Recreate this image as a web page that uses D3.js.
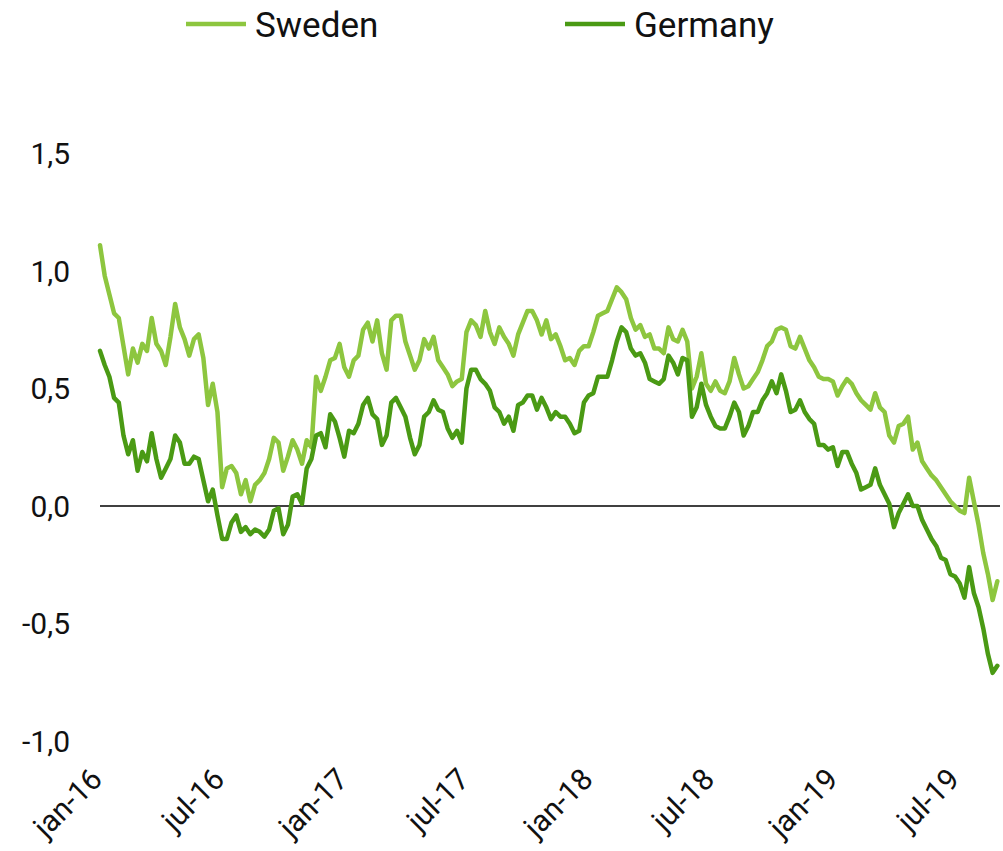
<!DOCTYPE html>
<html lang="en">
  <head>
    <meta charset="UTF-8" />
    <title>Sweden vs Germany</title>
    <script src="https://cdnjs.cloudflare.com/ajax/libs/d3/7.8.5/d3.min.js"></script>
    <style>
      body {
        margin: 0;
        background: #fff;
      }
      svg text {
        font-family: Roboto, 'Liberation Sans', sans-serif;
        fill: #111;
      }
      .line {
        fill: none;
        stroke-width: 4.5px;
        stroke-linejoin: round;
        stroke-linecap: round;
      }
    </style>
  </head>
  <body>
    <svg width="1003" height="851"></svg>
    <script>
      // weekly observations, first week starting 1 Jan 2016
      const startDate = new Date(2016, 0, 1);

      const sweden = [
        1.11, 0.98, 0.90, 0.82, 0.80, 0.68, 0.56, 0.67, 0.61, 0.69,
        0.66, 0.80, 0.69, 0.66, 0.60, 0.72, 0.86, 0.76, 0.71, 0.64,
        0.71, 0.73, 0.63, 0.43, 0.52, 0.40, 0.08, 0.16, 0.17, 0.14,
        0.05, 0.11, 0.02, 0.09, 0.11, 0.14, 0.20, 0.29, 0.27, 0.15, 0.21,
        0.28, 0.24, 0.18, 0.28, 0.25, 0.55, 0.49, 0.55, 0.62, 0.63,
        0.69, 0.59, 0.55, 0.62, 0.64, 0.75, 0.78, 0.70, 0.79, 0.65,
        0.58, 0.79, 0.81, 0.81, 0.70, 0.64, 0.58, 0.62, 0.71, 0.67,
        0.72, 0.62, 0.59, 0.56, 0.51, 0.53, 0.54, 0.74, 0.79, 0.77,
        0.72, 0.83, 0.74, 0.69, 0.76, 0.72, 0.69, 0.64, 0.73, 0.78,
        0.83, 0.83, 0.79, 0.73, 0.79, 0.71, 0.73, 0.68, 0.62, 0.63,
        0.60, 0.66, 0.68, 0.68, 0.74, 0.81, 0.82, 0.83, 0.88, 0.93, 0.91,
        0.88, 0.80, 0.75, 0.77, 0.72, 0.73, 0.67, 0.67, 0.65, 0.76,
        0.71, 0.70, 0.75, 0.70, 0.50, 0.55, 0.65, 0.52, 0.49, 0.53,
        0.49, 0.48, 0.53, 0.63, 0.56, 0.50, 0.51, 0.54, 0.57, 0.62,
        0.68, 0.70, 0.75, 0.76, 0.75, 0.68, 0.67, 0.72, 0.67, 0.62,
        0.59, 0.55, 0.54, 0.54, 0.53, 0.47, 0.51, 0.54, 0.52, 0.48,
        0.45, 0.43, 0.41, 0.48, 0.42, 0.40, 0.30, 0.27, 0.34, 0.35,
        0.38, 0.24, 0.27, 0.19, 0.16, 0.13, 0.11, 0.08, 0.05, 0.02, 0.00,
        -0.02, -0.03, 0.12, 0.02, -0.08, -0.20, -0.29, -0.40, -0.32
      ];

      const germany = [
        0.66, 0.60, 0.55, 0.46, 0.44, 0.30, 0.22, 0.28, 0.15, 0.23,
        0.19, 0.31, 0.20, 0.12, 0.16, 0.20, 0.30, 0.27, 0.18, 0.18,
        0.21, 0.20, 0.11, 0.02, 0.07, -0.04, -0.14, -0.14, -0.07, -0.04,
        -0.11, -0.09, -0.12, -0.10, -0.11, -0.13, -0.10, -0.02, -0.01, -0.12, -0.08,
        0.04, 0.05, 0.01, 0.16, 0.20, 0.30, 0.31, 0.25, 0.39, 0.36,
        0.29, 0.21, 0.32, 0.31, 0.35, 0.43, 0.46, 0.39, 0.37, 0.26,
        0.30, 0.44, 0.46, 0.42, 0.38, 0.29, 0.22, 0.26, 0.38, 0.40,
        0.45, 0.41, 0.40, 0.33, 0.29, 0.32, 0.27, 0.50, 0.58, 0.58,
        0.54, 0.52, 0.49, 0.42, 0.40, 0.35, 0.38, 0.32, 0.43, 0.44,
        0.47, 0.47, 0.41, 0.46, 0.42, 0.37, 0.40, 0.38, 0.38, 0.35,
        0.31, 0.32, 0.44, 0.47, 0.48, 0.55, 0.55, 0.55, 0.62, 0.70, 0.76,
        0.74, 0.67, 0.64, 0.65, 0.61, 0.54, 0.53, 0.52, 0.54, 0.64,
        0.61, 0.56, 0.63, 0.62, 0.38, 0.42, 0.52, 0.43, 0.38, 0.34,
        0.33, 0.33, 0.38, 0.44, 0.40, 0.30, 0.34, 0.40, 0.40, 0.45,
        0.48, 0.53, 0.48, 0.56, 0.49, 0.40, 0.41, 0.45, 0.40, 0.37,
        0.35, 0.26, 0.26, 0.24, 0.25, 0.17, 0.23, 0.23, 0.18, 0.14,
        0.07, 0.08, 0.09, 0.16, 0.09, 0.05, 0.01, -0.09, -0.03, 0.01,
        0.05, 0.00, 0.00, -0.06, -0.10, -0.14, -0.17, -0.22, -0.23, -0.29, -0.30,
        -0.33, -0.39, -0.26, -0.37, -0.43, -0.52, -0.63, -0.71, -0.68
      ];

      const yTicks = [-1.0, -0.5, 0, 0.5, 1.0, 1.5];
      const seriesNames = ['Sweden', 'Germany'];
      const seriesColors = ['#8dc63f', '#4a9a14'];

      const weeks = sweden.map((_, i) => d3.timeDay.offset(startDate, 7 * i));

      const svg = d3.select('svg');

      const x = d3
        .scaleTime()
        .domain([startDate, new Date(2019, 7, 31)])
        .range([100, 998]);

      const y = d3.scaleLinear().domain([-1, 1.5]).range([741, 153.5]);

      // plain hyphen and decimal comma, like "-0,5"
      const fmtNum = d => d.toFixed(1).replace('.', ',');
      const fmtDate = d3.timeFormat('%b-%y');

      // y labels (no axis line, no ticks)
      svg
        .append('g')
        .selectAll('text')
        .data(yTicks)
        .join('text')
        .attr('x', 70)
        .attr('y', d => y(d))
        .attr('dy', '0.35em')
        .attr('text-anchor', 'end')
        .style('font-size', '30px')
        .text(fmtNum);

      // zero line
      svg
        .append('line')
        .attr('x1', x.range()[0])
        .attr('x2', 1000)
        .attr('y1', y(0))
        .attr('y2', y(0))
        .attr('stroke', '#000')
        .attr('stroke-width', 1.5);

      // x labels, rotated
      const xTicks = x.ticks(d3.timeMonth.every(6));
      svg
        .append('g')
        .selectAll('text')
        .data(xTicks)
        .join('text')
        .attr('text-anchor', 'end')
        .attr('transform', d => `translate(${x(d) + 4},781) rotate(-45)`)
        .style('font-size', '30px')
        .text(d => fmtDate(d).toLowerCase());

      // lines
      const line = d3
        .line()
        .x((d, i) => x(weeks[i]))
        .y(d => y(d));

      [sweden, germany].forEach((s, k) => {
        svg
          .append('path')
          .datum(s)
          .attr('class', 'line')
          .attr('stroke', seriesColors[k])
          .attr('d', line);
      });

      // legend
      const legendX = [186, 565];
      const legend = svg
        .append('g')
        .selectAll('g')
        .data(seriesNames)
        .join('g')
        .attr('transform', (d, i) => `translate(${legendX[i]},24)`);

      legend
        .append('line')
        .attr('x1', 0)
        .attr('x2', 60)
        .attr('stroke', (d, i) => seriesColors[i])
        .attr('stroke-width', 4.5);

      legend
        .append('text')
        .attr('x', 69)
        .attr('dy', '0.36em')
        .style('font-size', '35px')
        .text(d => d);
    </script>
  </body>
</html>
